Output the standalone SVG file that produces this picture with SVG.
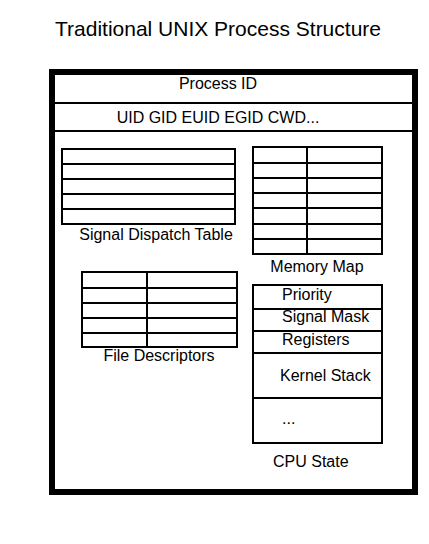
<svg xmlns="http://www.w3.org/2000/svg" width="429" height="544" viewBox="0 0 429 544">
<style>
text{font-family:"Liberation Sans",Arial,sans-serif;fill:#000;font-size:16px}
.t{fill:#fff;stroke:#000;stroke-width:2}
.l{stroke:#000;stroke-width:2;fill:none}
</style>
<rect width="429" height="544" fill="#fff"/>
<text x="218" y="36" text-anchor="middle" style="font-size:21px">Traditional UNIX Process Structure</text>
<g id="process">
<rect x="52" y="72" width="363" height="420" fill="#fff" stroke="#000" stroke-width="6"/>
</g>
<g id="process-id">
<line class="l" x1="54" y1="103" x2="412" y2="103"/>
<text x="218" y="89" text-anchor="middle">Process ID</text>
</g>
<g id="ids">
<line class="l" x1="54" y1="131" x2="412" y2="131"/>
<text x="218" y="123" text-anchor="middle">UID GID EUID EGID CWD...</text>
</g>
<g id="signal-dispatch-table">
<rect class="t" x="62" y="149" width="173" height="75"/>
<path class="l" d="M62 164H235M62 179H235M62 194H235M62 209H235"/>
<text x="156" y="240" text-anchor="middle">Signal Dispatch Table</text>
</g>
<g id="memory-map">
<rect class="t" x="253" y="147" width="129" height="107"/>
<path class="l" d="M307 147V254M253 163H382M253 178H382M253 193H382M253 208H382M253 224H382M253 239H382"/>
<text x="317" y="272" text-anchor="middle">Memory Map</text>
</g>
<g id="file-descriptors">
<rect class="t" x="82" y="272" width="155" height="75"/>
<path class="l" d="M147 272V347M82 288H237M82 303H237M82 318H237M82 333H237"/>
<text x="159" y="361" text-anchor="middle">File Descriptors</text>
</g>
<g id="cpu-state">
<rect class="t" x="253" y="285" width="129" height="158"/>
<path class="l" d="M253 309H382M253 331H382M253 353H382M253 398H382"/>
<text x="282" y="300">Priority</text>
<text x="282" y="322">Signal Mask</text>
<text x="282" y="345">Registers</text>
<text x="280" y="381">Kernel Stack</text>
<text x="282" y="424">...</text>
<text x="273" y="467">CPU State</text>
</g>
</svg>
